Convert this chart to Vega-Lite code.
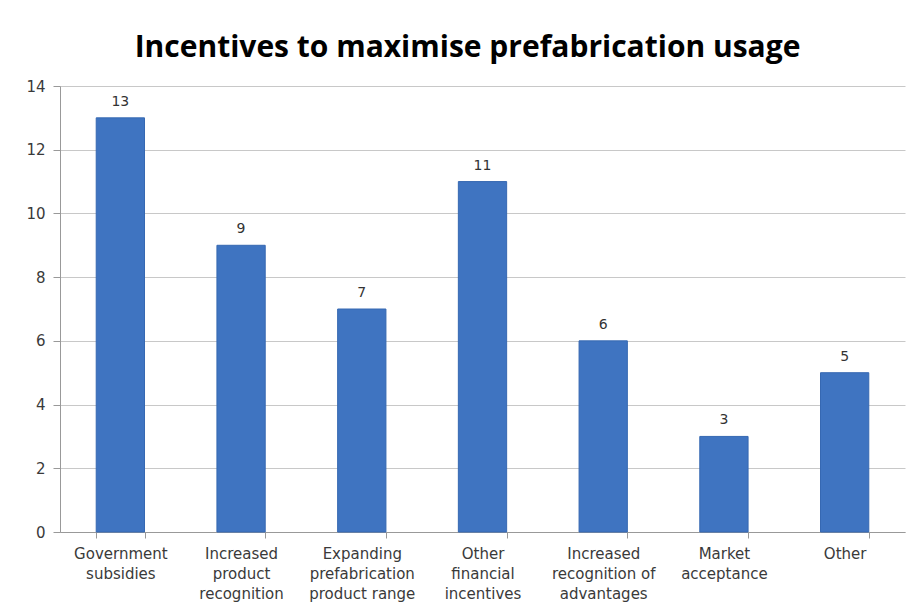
{
  "$schema": "https://vega.github.io/schema/vega-lite/v6.json",
  "width": 845,
  "height": 446,
  "autosize": {"type": "none"},
  "padding": {"left": 60, "top": 86, "right": 5, "bottom": 80},
  "background": "white",
  "title": {
    "text": "Incentives to maximise prefabrication usage",
    "font": "Open Sans",
    "fontSize": 30,
    "fontWeight": "bold",
    "color": "#000000",
    "anchor": "middle",
    "offset": 16,
    "dx": -15
  },
  "data": {
    "values": [
      {"category": "Government|subsidies", "value": 13},
      {"category": "Increased|product|recognition", "value": 9},
      {"category": "Expanding|prefabrication|product range", "value": 7},
      {"category": "Other|financial|incentives", "value": 11},
      {"category": "Increased|recognition of|advantages", "value": 6},
      {"category": "Market|acceptance", "value": 3},
      {"category": "Other", "value": 5}
    ]
  },
  "encoding": {
    "x": {
      "field": "category",
      "type": "nominal",
      "sort": null,
      "scale": {"paddingInner": 0.6, "paddingOuter": 0.3},
      "axis": {
        "title": null,
        "labelAngle": 0,
        "labelExpr": "split(datum.label, '|')",
        "labelFont": "DejaVu Sans",
        "labelFontSize": 15,
        "labelColor": "#3a3a3a",
        "labelLineHeight": 20,
        "labelPadding": 8,
        "labelBaseline": "top",
        "domainColor": "#999999",
        "tickColor": "#999999",
        "tickSize": 6,
        "tickBand": "extent",
        "grid": false
      }
    },
    "y": {
      "field": "value",
      "type": "quantitative",
      "scale": {"domain": [0, 14]},
      "axis": {
        "title": null,
        "values": [0, 2, 4, 6, 8, 10, 12, 14],
        "labelFont": "DejaVu Sans",
        "labelFontSize": 15,
        "labelColor": "#3a3a3a",
        "labelPadding": 8,
        "domainColor": "#999999",
        "tickColor": "#999999",
        "tickSize": 7,
        "gridColor": "#c8c8c8",
        "gridWidth": 1
      }
    }
  },
  "layer": [
    {
      "mark": {"type": "bar", "color": "#3f74c1", "stroke": "#3668b2", "strokeWidth": 1}
    },
    {
      "mark": {"type": "text", "dy": -16, "font": "DejaVu Sans", "fontSize": 14, "color": "#333333"},
      "encoding": {"text": {"field": "value", "type": "quantitative"}}
    }
  ],
  "config": {"view": {"stroke": null}}
}
